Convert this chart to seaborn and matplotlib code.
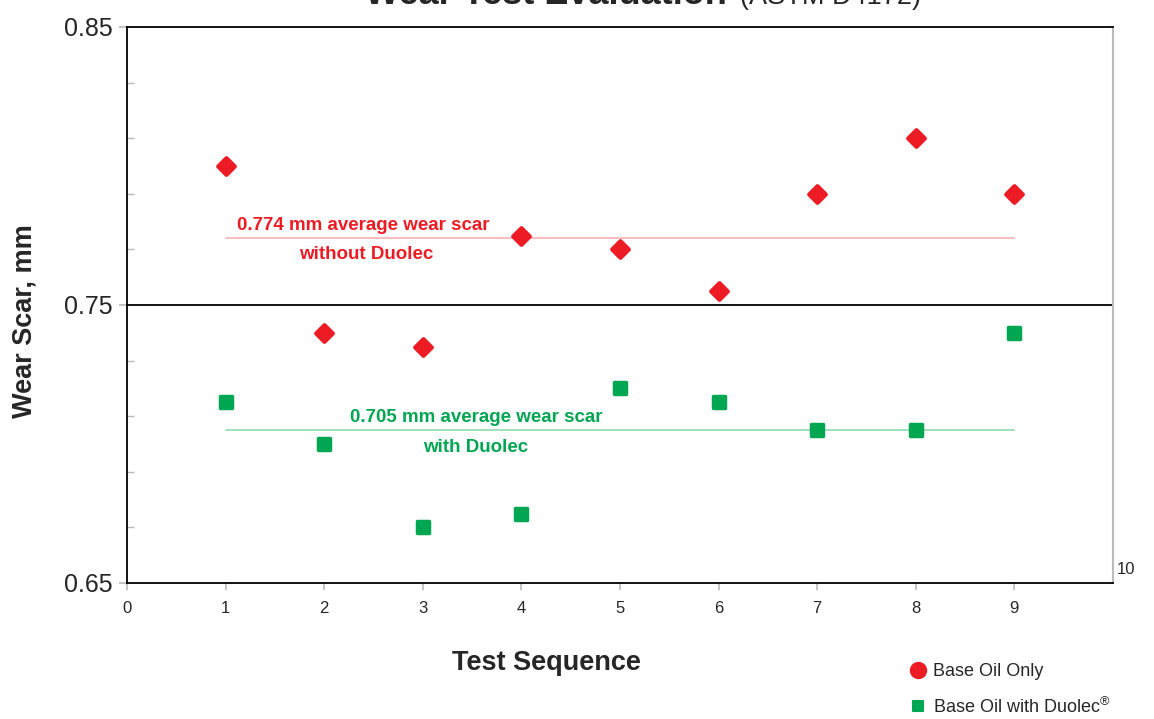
import numpy as np
import pandas as pd
import matplotlib
matplotlib.use("Agg")
import matplotlib.pyplot as plt
from matplotlib.lines import Line2D
from matplotlib.markers import MarkerStyle
from matplotlib.ticker import FixedLocator
import seaborn as sns

# data
test_seq = [1, 2, 3, 4, 5, 6, 7, 8, 9]
base_oil = [0.800, 0.740, 0.735, 0.775, 0.770, 0.755, 0.790, 0.810, 0.790]
with_duolec = [0.715, 0.700, 0.670, 0.675, 0.720, 0.715, 0.705, 0.705, 0.740]
avg_base = 0.774
avg_duolec = 0.705
x_ticks = [0, 1, 2, 3, 4, 5, 6, 7, 8, 9]
y_ticks = [0.65, 0.75, 0.85]
y_minor = [0.67, 0.69, 0.71, 0.73, 0.77, 0.79, 0.81, 0.83]

RED = "#ED1C24"
GREEN = "#00A651"

sns.set_theme(style="white")
plt.rcParams["font.family"] = ["Liberation Sans", "DejaVu Sans"]
plt.rcParams["mathtext.fontset"] = "custom"
plt.rcParams["mathtext.rm"] = "Liberation Sans"

df = pd.DataFrame({
    "seq": test_seq * 2,
    "scar": base_oil + with_duolec,
    "series": ["Base Oil Only"] * 9 + ["Base Oil with Duolec"] * 9,
})

fig = plt.figure(figsize=(11.54, 7.19), dpi=100)
ax = fig.add_axes([127 / 1154, 1 - 583 / 719, (1113 - 127) / 1154, (583 - 27) / 719])

# average lines
ax.plot([1, 9], [avg_base, avg_base], color="#F7B3B5", lw=1.2, zorder=1)
ax.plot([1, 9], [avg_duolec, avg_duolec], color="#8FDCAE", lw=1.2, zorder=1)
ax.axhline(0.75, color="black", lw=1.3, zorder=1)

diamond = MarkerStyle("D", joinstyle="round")
square = MarkerStyle("s", joinstyle="round")
sns.scatterplot(data=df[df.series == "Base Oil Only"], x="seq", y="scar",
                marker=diamond, s=72, color=RED, edgecolor=RED, linewidth=3,
                ax=ax, legend=False, zorder=3)
sns.scatterplot(data=df[df.series == "Base Oil with Duolec"], x="seq", y="scar",
                marker=square, s=82, color=GREEN, edgecolor=GREEN, linewidth=2.5,
                ax=ax, legend=False, zorder=3)

ax.set_xlim(0, 10)
ax.set_ylim(0.65, 0.85)
ax.set_xticks(x_ticks)
ax.set_xticklabels([str(t) for t in x_ticks], fontsize=12)
ax.set_yticks(y_ticks)
ax.set_yticklabels([f"{t:.2f}" for t in y_ticks], fontsize=18)
ax.yaxis.set_minor_locator(FixedLocator(y_minor))
ax.tick_params(axis="y", which="major", direction="out", length=6, color="#BBBBBB",
               left=True, pad=4)
ax.tick_params(axis="y", which="minor", direction="in", length=5, color="#BBBBBB",
               left=True)
ax.tick_params(axis="x", which="major", direction="out", length=5, color="#BBBBBB",
               bottom=True, pad=8)
ax.text(10.04, 0.652, "10", fontsize=12, ha="left", va="bottom")

for side in ["left", "top", "bottom"]:
    ax.spines[side].set_color("black")
    ax.spines[side].set_linewidth(1.3)
ax.spines["right"].set_color("#BBBBBB")
ax.spines["right"].set_linewidth(1.5)

ax.set_xlabel("Test Sequence", fontsize=19.5, fontweight="bold")
ax.set_ylabel("Wear Scar, mm", fontsize=19.5, fontweight="bold")
ax.xaxis.set_label_coords((546 - 127) / 986, -(663 - 583) / 556)
ax.xaxis.label.set_va("center")
ax.yaxis.set_label_coords(-(127 - 25) / 986, (583 - 321) / 556)
ax.yaxis.label.set_va("center")

# annotations
ax.text(2.4, 0.7785, "0.774 mm average wear scar", color=RED, fontsize=13.5,
        fontweight="bold", ha="center", va="center")
ax.text(2.43, 0.7680, "without Duolec", color=RED, fontsize=13.5,
        fontweight="bold", ha="center", va="center")
ax.text(3.54, 0.7095, "0.705 mm average wear scar", color=GREEN, fontsize=13.5,
        fontweight="bold", ha="center", va="center")
ax.text(3.54, 0.6988, "with Duolec", color=GREEN, fontsize=13.5,
        fontweight="bold", ha="center", va="center")

# title, cut off at the top of the picture
fig.text(365 / 1154, 1 - 3.5 / 719, "Wear Test Evaluation", fontsize=26,
         fontweight="bold", ha="left", va="baseline")
fig.text(740 / 1154, 1 - 3.5 / 719, "(ASTM D4172)", fontsize=19.5,
         ha="left", va="baseline")

handles = [
    Line2D([], [], marker="o", ls="", color=RED, markersize=11.5),
    Line2D([], [], marker=square, ls="", color=GREEN, markersize=7.5,
           markeredgewidth=1.5),
]
fig.legend(handles, ["Base Oil Only", "Base Oil with Duolec$^{®}$"],
           loc="upper left", bbox_to_anchor=(891 / 1154, 1 - 647 / 719),
           frameon=False, fontsize=13, handletextpad=0.2, labelspacing=0.9,
           handlelength=1.2)

fig.savefig("out.png", dpi=100)
